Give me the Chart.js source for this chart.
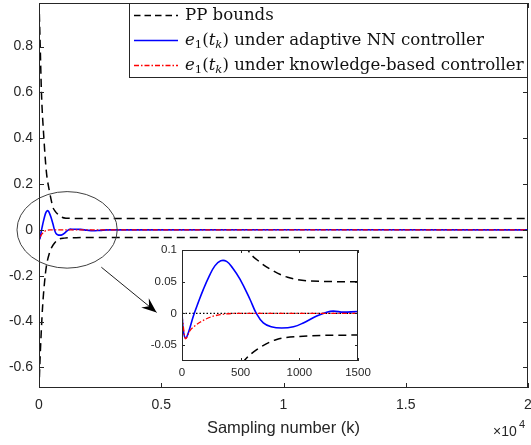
<!DOCTYPE html>
<html>
<head>
<meta charset="utf-8">
<script src="https://cdn.jsdelivr.net/npm/chart.js@4.4.1/dist/chart.umd.min.js"></script>
<style>
    html, body { margin: 0; padding: 0; background: #fff; }
    #wrap { position: relative; width: 531px; height: 445px; overflow: hidden; }
    #main { position: absolute; left: 0; top: 0; }
    #inset { position: absolute; left: 140px; top: 240px; }
</style>
</head>
<body>
<div id="wrap">
    <canvas id="main" width="531" height="445"></canvas>
    <canvas id="inset" width="235" height="145"></canvas>
</div>
<script>
// values (k = sampling number)
const upperK = [0, 25, 50, 100, 200, 300, 430, 500, 562, 650, 750, 900, 1100, 1500, 2000, 20000];
const upperVal = [1.0, 0.9, 0.8, 0.6, 0.4, 0.255, 0.167, 0.13, 0.1, 0.083, 0.07, 0.057, 0.051, 0.05, 0.05, 0.05];

const lowerK = [0, 30, 90, 150, 225, 300, 430, 537, 637, 807, 1032, 1500, 2000, 20000];
const lowerVal = [-0.7, -0.6, -0.45, -0.33, -0.23, -0.16, -0.1, -0.073, -0.057, -0.041, -0.036, -0.034, -0.033, -0.033];

const nnK = [0, 12, 30, 55, 97, 140, 182, 230, 280, 330, 380, 430, 494, 580, 631, 693, 760, 850, 950, 1034, 1148, 1233, 1290, 1375, 1500, 1700, 1950, 2200, 2500, 2800, 20000];
const nnVal = [0, -0.028, -0.039, -0.03, -0.004, 0.018, 0.038, 0.058, 0.075, 0.083, 0.082, 0.072, 0.054, 0.022, 0.001, -0.015, -0.021, -0.023, -0.021, -0.015, -0.004, 0.002, 0.0037, 0.002, 0.003, 0.002, -0.001, -0.004, -0.002, 0, 0];

const kbK = [0, 30, 68, 100, 153, 239, 324, 450, 20000];
const kbVal = [-0.004, -0.04, -0.027, -0.021, -0.014, -0.006, -0.002, 0, 0];

const zeroK = [0, 20000];
const zeroVal = [0, 0];

const mainXTicks = [0, 5000, 10000, 15000, 20000];
const mainYTicks = [-0.6, -0.4, -0.2, 0, 0.2, 0.4, 0.6, 0.8];
const insetXTicks = [0, 500, 1000, 1500];
const insetYTicks = [-0.05, 0, 0.05, 0.1];

const AXIS = '#262626';
const SANS = '"Liberation Sans", Arial, Helvetica, sans-serif';
const SERIF = '"DejaVu Serif", "Liberation Serif", serif';

const pts = (ks, vs) => ks.map((k, i) => ({ x: k, y: vs[i] }));

function buildDatasets(withZero) {
    const sets = [
        { data: pts(upperK, upperVal), borderColor: '#000', borderWidth: 1.5, borderDash: [8, 5], order: 4, cubicInterpolationMode: 'monotone' },
        { data: pts(lowerK, lowerVal), borderColor: '#000', borderWidth: 1.5, borderDash: [8, 5], order: 4, cubicInterpolationMode: 'monotone' },
        { data: pts(nnK, nnVal), borderColor: '#0000ff', borderWidth: 1.6, order: 2, tension: 0.4 },
        { data: pts(kbK, kbVal), borderColor: '#ff0000', borderWidth: 1.3, borderDash: [5, 2, 1.5, 2], order: 1, cubicInterpolationMode: 'monotone' },
    ];
    if (withZero) {
        sets.push({ data: pts(zeroK, zeroVal), borderColor: '#000', borderWidth: 1.3, borderDash: [1.5, 2], order: 3 });
    }
    return sets;
}

// MATLAB-like box with inward ticks
const frame = {
    id: 'frame',
    beforeDatasetsDraw(chart) {
        const { ctx, chartArea: a } = chart;
        ctx.save();
        ctx.fillStyle = '#fff';
        ctx.fillRect(a.left, a.top, a.right - a.left, a.bottom - a.top);
        ctx.restore();
    },
    afterDatasetsDraw(chart, args, opts) {
        const { ctx, chartArea: a, scales: { x, y } } = chart;
        const len = opts.len || 5;
        ctx.save();
        ctx.strokeStyle = AXIS;
        ctx.lineWidth = 1;
        ctx.beginPath();
        x.ticks.forEach((t) => {
            const px = Math.round(x.getPixelForValue(t.value)) + 0.5;
            ctx.moveTo(px, a.bottom); ctx.lineTo(px, a.bottom - len);
            ctx.moveTo(px, a.top); ctx.lineTo(px, a.top + len);
        });
        y.ticks.forEach((t) => {
            const py = Math.round(y.getPixelForValue(t.value)) + 0.5;
            ctx.moveTo(a.left, py); ctx.lineTo(a.left + len, py);
            ctx.moveTo(a.right, py); ctx.lineTo(a.right - len, py);
        });
        ctx.stroke();
        ctx.strokeRect(a.left + 0.5, a.top + 0.5, a.right - a.left - 1, a.bottom - a.top - 1);
        ctx.restore();
    },
};

// zoom ellipse + arrow, legend and the x10^4 factor on the main axes
const decorations = {
    id: 'decorations',
    afterDatasetsDraw(chart) {
        const { ctx, scales: { x, y } } = chart;
        ctx.save();
        ctx.strokeStyle = '#404040';
        ctx.lineWidth = 1;
        const cx = x.getPixelForValue(1150), cy = y.getPixelForValue(0);
        const rx = x.getPixelForValue(1150 + 2050) - cx;
        const ry = y.getPixelForValue(-0.167) - cy;
        ctx.beginPath();
        ctx.ellipse(cx, cy, rx, ry, 0, 0, Math.PI * 2);
        ctx.stroke();

        const x0 = x.getPixelForValue(2550), y0 = y.getPixelForValue(-0.163);
        const x1 = x.getPixelForValue(4810), y1 = y.getPixelForValue(-0.36);
        ctx.strokeStyle = '#202020';
        ctx.beginPath();
        ctx.moveTo(x0, y0); ctx.lineTo(x1, y1);
        ctx.stroke();
        const ang = Math.atan2(y1 - y0, x1 - x0);
        const L = 15, W = 6;
        const bx = x1 - L * Math.cos(ang), by = y1 - L * Math.sin(ang);
        const mx = x1 - 0.65 * L * Math.cos(ang), my = y1 - 0.65 * L * Math.sin(ang);
        ctx.fillStyle = '#000';
        ctx.beginPath();
        ctx.moveTo(x1, y1);
        ctx.lineTo(bx - W * Math.sin(ang), by + W * Math.cos(ang));
        ctx.lineTo(mx, my);
        ctx.lineTo(bx + W * Math.sin(ang), by - W * Math.cos(ang));
        ctx.closePath();
        ctx.fill();
        ctx.restore();
    },
    afterDraw(chart) {
        const { ctx, chartArea: a } = chart;
        ctx.save();
        // legend box
        const lx = 129.5, ly = a.top + 0.5, lw = a.right - 129.5 - 0.5, lh = 74;
        ctx.fillStyle = '#fff';
        ctx.fillRect(lx, ly, lw, lh);
        ctx.strokeStyle = AXIS;
        ctx.lineWidth = 1;
        ctx.strokeRect(lx, ly, lw, lh);

        const rows = [
            { y: 15, color: '#000', dash: [6.5, 4], width: 1.5, label: null },
            { y: 40, color: '#0000ff', dash: [], width: 1.6, label: ' under adaptive NN controller' },
            { y: 65, color: '#ff0000', dash: [5, 2, 1.5, 2], width: 1.3, label: ' under knowledge-based controller' },
        ];
        const fs = 16.6;
        rows.forEach((r) => {
            ctx.strokeStyle = r.color;
            ctx.lineWidth = r.width;
            ctx.setLineDash(r.dash);
            ctx.beginPath();
            ctx.moveTo(134, r.y + 0.5); ctx.lineTo(178, r.y + 0.5);
            ctx.stroke();
            ctx.setLineDash([]);
            ctx.fillStyle = '#111';
            ctx.textBaseline = 'alphabetic';
            ctx.textAlign = 'left';
            const base = r.y + 5;
            let tx = 185;
            if (!r.label) {
                ctx.font = `${fs}px ${SERIF}`;
                ctx.fillText('PP bounds', tx, base);
                return;
            }
            const put = (s, style, size, dy) => {
                ctx.font = `${style} ${size}px ${SERIF}`;
                ctx.fillText(s, tx, base + dy);
                tx += ctx.measureText(s).width;
            };
            put('e', 'italic', fs, 0);
            put('1', 'normal', fs * 0.7, 3);
            put('(', 'normal', fs, 0);
            put('t', 'italic', fs, 0);
            put('k', 'italic', fs * 0.7, 3);
            put(')', 'normal', fs, 0);
            put(r.label, 'normal', fs, 0);
        });

        // x10^4 exponent
        ctx.fillStyle = AXIS;
        ctx.font = `14px ${SANS}`;
        ctx.textBaseline = 'alphabetic';
        ctx.textAlign = 'left';
        ctx.fillText('\u00d710', 493, 436);
        ctx.font = `11px ${SANS}`;
        ctx.fillText('4', 519, 428);
        ctx.restore();
    },
};

function axisOpts(min, max, tickVals, fmt, font, pad, size, isX) {
    return {
        type: 'linear',
        min, max,
        grid: { display: false, drawTicks: false },
        border: { display: false },
        ticks: { color: AXIS, font, padding: pad, autoSkip: false, maxRotation: 0, callback: fmt },
        afterBuildTicks: (s) => { s.ticks = tickVals.map((v) => ({ value: v })); },
        afterFit: (s) => {
            if (isX) { s.height = size; s.paddingLeft = 0; s.paddingRight = 0; }
            else { s.width = size; s.paddingTop = 0; s.paddingBottom = 0; }
        },
    };
}

const yFmt = (v) => (Math.abs(v) < 1e-9 ? '0' : String(Math.round(v * 100) / 100));

new Chart(document.getElementById('main'), {
    type: 'line',
    data: { datasets: buildDatasets(false) },
    options: {
        responsive: false,
        animation: false,
        events: [],
        layout: { padding: { left: 0, right: 3, top: 3, bottom: 0 } },
        elements: { point: { radius: 0 } },
        plugins: { legend: { display: false }, tooltip: { enabled: false }, frame: { len: 5 } },
        scales: {
            x: Object.assign(axisOpts(0, 20000, mainXTicks, (v) => String(v / 10000), { family: SANS, size: 14 }, 9, 57, true), {
                title: { display: true, text: 'Sampling number (k)', color: AXIS, font: { family: SANS, size: 16.5 }, padding: { top: 0, bottom: 7 } },
            }),
            y: axisOpts(-0.69, 0.99, mainYTicks, yFmt, { family: SANS, size: 14 }, 6, 39, false),
        },
    },
    plugins: [frame, decorations],
});

new Chart(document.getElementById('inset'), {
    type: 'line',
    data: { datasets: buildDatasets(true) },
    options: {
        responsive: false,
        animation: false,
        events: [],
        layout: { padding: { left: 0, right: 17, top: 10, bottom: 0 } },
        elements: { point: { radius: 0 } },
        plugins: { legend: { display: false }, tooltip: { enabled: false }, frame: { len: 3 } },
        scales: {
            x: axisOpts(0, 1500, insetXTicks, (v) => String(v), { family: SANS, size: 11.5 }, 5, 24, true),
            y: axisOpts(-0.075, 0.1, insetYTicks, yFmt, { family: SANS, size: 11.5 }, 5, 42, false),
        },
    },
    plugins: [frame],
});
</script>
</body>
</html>
